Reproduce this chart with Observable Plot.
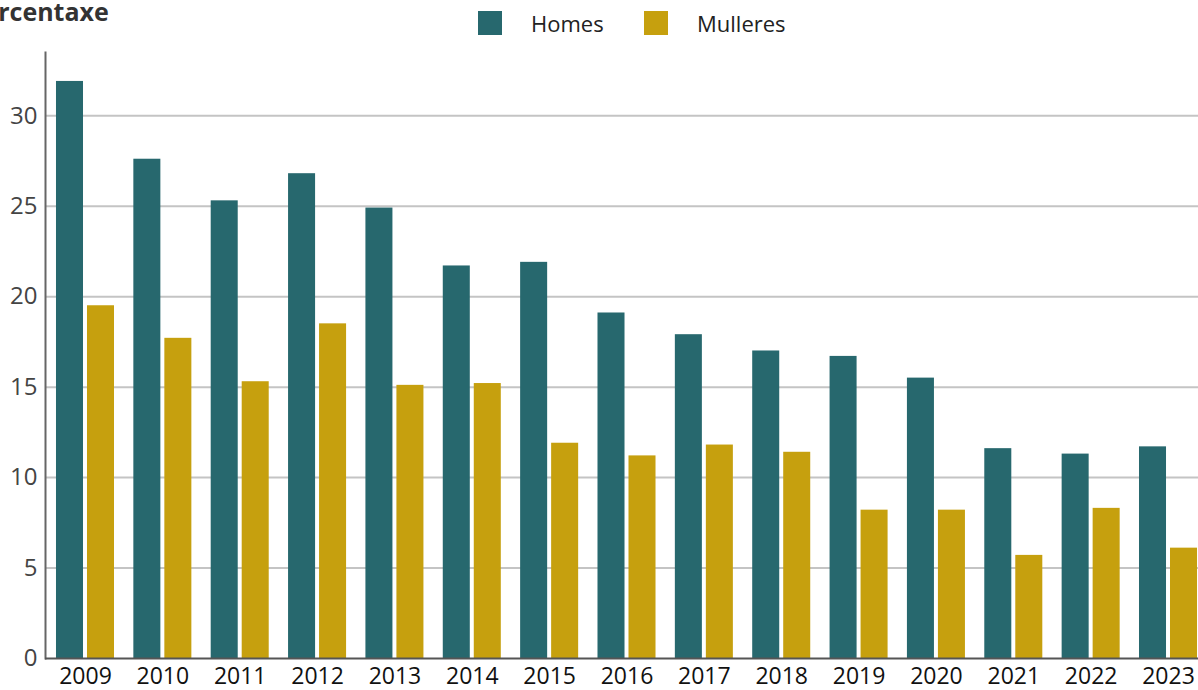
<!DOCTYPE html>
<html><head><meta charset="utf-8">
<script src="https://cdn.jsdelivr.net/npm/d3@7"></script>
<script src="https://cdn.jsdelivr.net/npm/@observablehq/plot@0.6"></script>
<style>
body{margin:0;overflow:hidden;background:#fff;font-family:"Open Sans",sans-serif;}
#head{position:relative;height:45px;width:1198px;overflow:hidden;}
#title{position:absolute;left:-33px;top:-6px;font-weight:bold;font-size:25px;color:#333;white-space:nowrap;}
.sw{position:absolute;top:11px;width:24px;height:24px;}
.lab{position:absolute;top:8px;font-size:22px;color:#222;line-height:30px;white-space:nowrap;}
</style></head>
<body>
<div id="head"></div>
<div id="chart"></div>
<script>
const years = ["2009","2010","2011","2012","2013","2014","2015","2016","2017","2018","2019","2020","2021","2022","2023"];
const homes = [31.9, 27.6, 25.3, 26.8, 24.9, 21.7, 21.9, 19.1, 17.9, 17.0, 16.7, 15.5, 11.6, 11.3, 11.7];
const mulleres = [19.5, 17.7, 15.3, 18.5, 15.1, 15.2, 11.9, 11.2, 11.8, 11.4, 8.2, 8.2, 5.7, 8.3, 6.1];
const seriesNames = ["Homes", "Mulleres"];
const seriesColors = ["#27686e", "#c6a00e"];
const yTicks = [0, 5, 10, 15, 20, 25, 30];
const titleText = "Porcentaxe";

const rows = years.flatMap((y, i) => [
  {year: y, serie: seriesNames[0], value: homes[i]},
  {year: y, serie: seriesNames[1], value: mulleres[i]}
]);

// header: title + legend
const head = document.getElementById("head");
const t = document.createElement("div");
t.id = "title"; t.textContent = titleText; head.appendChild(t);
const legendPos = [[478, 531], [644, 697]];
seriesNames.forEach((s, i) => {
  const sw = document.createElement("div");
  sw.className = "sw"; sw.style.left = legendPos[i][0] + "px"; sw.style.background = seriesColors[i];
  head.appendChild(sw);
  const lb = document.createElement("div");
  lb.className = "lab"; lb.style.left = legendPos[i][1] + "px"; lb.textContent = s;
  head.appendChild(lb);
});

const chart = Plot.plot({
  width: 1198, height: 645,
  marginTop: 7, marginBottom: 32, marginLeft: 45, marginRight: 0,
  style: {fontFamily: "Open Sans, sans-serif", fontSize: "22px", background: "white", overflow: "visible"},
  x: {type: "band", domain: years, range: [45, 1208], round: false, paddingInner: 0.25, paddingOuter: 0.142, axis: null},
  y: {domain: [0, 33.5], axis: null},
  color: {domain: seriesNames, range: seriesColors},
  marks: [
    Plot.gridY(yTicks.filter(d => d > 0), {stroke: "#c4c4c4", strokeWidth: 2, strokeOpacity: 1}),
    Plot.barY(rows.filter(d => d.serie === seriesNames[0]), {x: "year", y: "value", fill: "serie", insetRight: 31}),
    Plot.barY(rows.filter(d => d.serie === seriesNames[1]), {x: "year", y: "value", fill: "serie", insetLeft: 31}),
    Plot.axisY(yTicks, {tickSize: 0, tickPadding: 8, fill: "#444", fontSize: 24, label: null}),
    Plot.axisX(years, {tickSize: 0, tickPadding: 9, fill: "#111", fontSize: 23, label: null}),
    Plot.frame({anchor: "left", stroke: "#666", strokeWidth: 2}),
    Plot.ruleY([0], {stroke: "#555", strokeWidth: 2})
  ]
});
document.getElementById("chart").appendChild(chart);
</script>
</body></html>
